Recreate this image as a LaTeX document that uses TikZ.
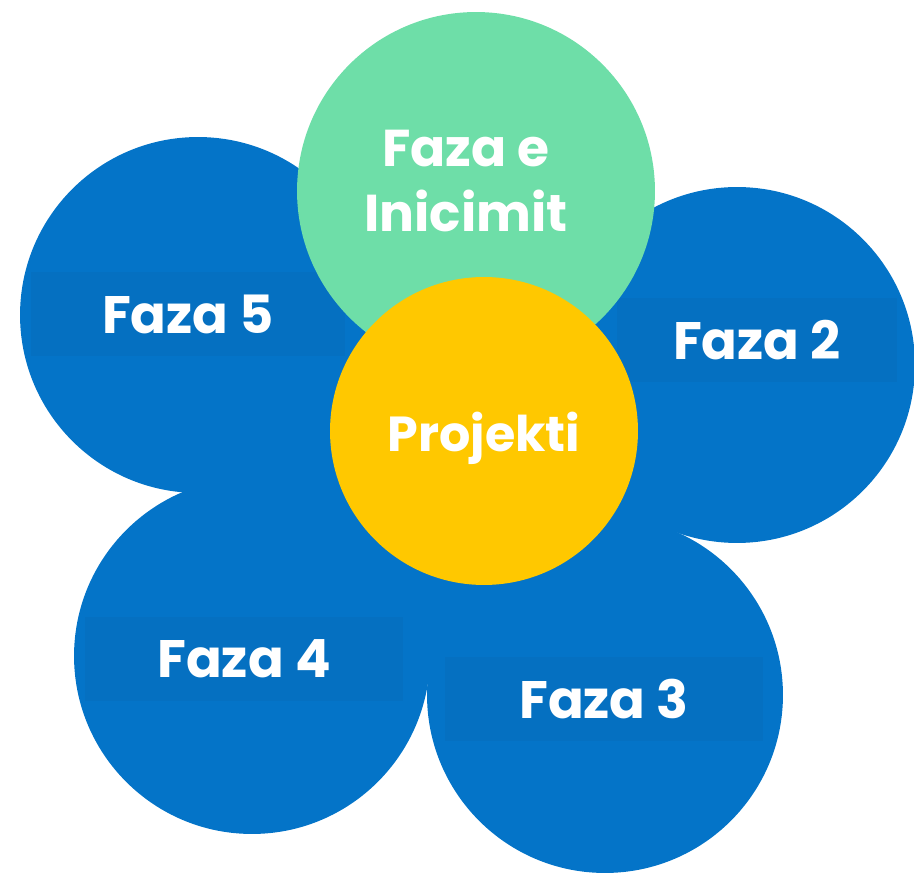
\documentclass[tikz,border=0pt]{standalone}
\usepackage{fontspec}
\setmainfont{Poppins}
\definecolor{petalblue}{HTML}{0474C8}
\definecolor{bandblue}{HTML}{0570C1}
\definecolor{startgreen}{HTML}{6EDEA8}
\definecolor{coreyellow}{HTML}{FFC800}
\tikzset{
  petal/.style={circle, fill=petalblue, minimum size=7.12cm, inner sep=0pt},
  band/.style={fill=bandblue, text=white, font=\fontsize{30}{36}\selectfont\bfseries,
    minimum width=6.3cm, minimum height=1.7cm, inner sep=0pt, text depth=0pt},
}
\begin{document}
\begin{tikzpicture}[x=0.02cm, y=-0.02cm]
\useasboundingbox (0,0) rectangle (914,874);

% Petals of the flower
\node[petal] (p5) at (198,315) {};
\node[petal] (p2) at (737,365) {};
\node[petal] (p3) at (605,695) {};
\node[petal] (p4) at (252,656) {};
\coordinate (g) at (476,191);
\fill[petalblue] (p5.center) -- (g) -- (p2.center) -- (p3.center) -- (p4.center) -- cycle;

% Labels on their strips
\node[band, minimum width=6.3cm] (f5) at (188,314) {Faza 5};
\node[band, minimum width=5.6cm] (f2) at (757,340) {Faza 2};
\node[band, minimum width=6.36cm] (f4) at (244,659) {Faza 4};
\node[band, minimum width=6.36cm] (f3) at (604,699) {Faza 3};

% Start phase and the project in the middle
\node[petal, fill=startgreen, minimum size=7.16cm] (start) at (g) {};
\node[text=white, font=\fontsize{29.5}{37.4}\selectfont\bfseries, align=center] (startlbl) at (466,181) {Faza e\\Inicimit};
\node[circle, fill=coreyellow, minimum size=6.16cm, inner sep=0pt] (core) at (484,431) {};
\node[anchor=base, text=white, font=\fontsize{28}{34}\selectfont\bfseries] (corelbl) at (484,452) {Projekti};
\end{tikzpicture}
\end{document}
